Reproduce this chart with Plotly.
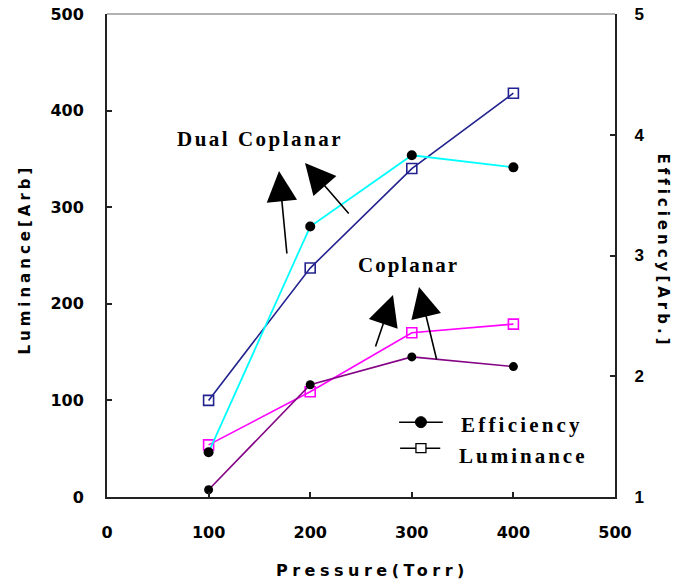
import plotly.graph_objects as go

# Gas pressure (Torr)
pressure = [100, 200, 300, 400]

# Luminance [Arb] (left axis)
lum_dual = [100, 237, 340, 418]
lum_coplanar = [54, 109, 170, 179]

# Efficiency [Arb.] (right axis)
eff_dual = [1.37, 3.24, 3.83, 3.73]
eff_coplanar = [1.06, 1.93, 2.16, 2.08]

x_ticks = [0, 100, 200, 300, 400, 500]
lum_ticks = [0, 100, 200, 300, 400, 500]
eff_ticks = [1, 2, 3, 4, 5]

NAVY = "#23238f"
CYAN = "#00ffff"
MAGENTA = "#ff00ff"
PURPLE = "#850485"

SANS = "DejaVu Sans"
SERIF = "Liberation Serif"


def spaced(text, px):
    return f"<span style='letter-spacing:{px}px'>{text}</span>"


fig = go.Figure()

# Luminance curves: open squares
fig.add_trace(go.Scatter(
    x=pressure, y=lum_dual, mode="lines+markers", showlegend=False,
    line=dict(color=NAVY, width=1.6),
    marker=dict(symbol="square-open", size=10, color=NAVY, line=dict(width=1.6)),
))
fig.add_trace(go.Scatter(
    x=pressure, y=lum_coplanar, mode="lines+markers", showlegend=False,
    line=dict(color=MAGENTA, width=1.6),
    marker=dict(symbol="square-open", size=10, color=MAGENTA, line=dict(width=1.6)),
))

# Efficiency curves: filled black dots on the right axis
fig.add_trace(go.Scatter(
    x=pressure, y=eff_dual, mode="lines+markers", yaxis="y2", showlegend=False,
    line=dict(color=CYAN, width=1.8),
    marker=dict(symbol="circle", size=10, color="black"),
))
fig.add_trace(go.Scatter(
    x=pressure, y=eff_coplanar, mode="lines+markers", yaxis="y2", showlegend=False,
    line=dict(color=PURPLE, width=1.6),
    marker=dict(symbol="circle", size=9, color="black"),
))

tick_font = dict(family=SANS, size=16, color="black", weight="bold")

fig.update_layout(
    width=690, height=582,
    margin=dict(l=107, r=75, t=14, b=85, autoexpand=False),
    paper_bgcolor="white", plot_bgcolor="white",
    showlegend=False,
    xaxis=dict(
        range=[0, 500], tickvals=x_ticks, ticktext=[str(v) for v in x_ticks],
        showgrid=False, zeroline=False,
        showline=True, linecolor="#222222", linewidth=2,
        ticks="inside", ticklen=5, tickwidth=1.5, tickcolor="#222222",
        tickfont=tick_font, ticklabelstandoff=20,
    ),
    yaxis=dict(
        range=[0, 500], tickvals=lum_ticks, ticktext=[str(v) for v in lum_ticks],
        showgrid=False, zeroline=False,
        showline=True, linecolor="#222222", linewidth=2,
        ticks="inside", ticklen=5, tickwidth=1.5, tickcolor="#222222",
        tickfont=tick_font, ticklabelstandoff=18,
    ),
    yaxis2=dict(
        range=[1, 5], tickvals=eff_ticks, ticktext=[str(v) for v in eff_ticks],
        overlaying="y", side="right",
        showgrid=False, zeroline=False,
        showline=True, linecolor="#222222", linewidth=2,
        ticks="inside", ticklen=5, tickwidth=1.5, tickcolor="#222222",
        tickfont=dict(family="Liberation Sans", size=17, color="black", weight="bold"),
        ticklabelstandoff=14,
    ),
)

# top border of the plotting box
fig.add_shape(type="line", xref="paper", yref="paper", x0=0, x1=1, y0=1, y1=1,
              line=dict(color="#999999", width=1.5))

annotations = []

# axis titles
annotations.append(dict(
    text=spaced("Pressure(Torr)", 4.5), xref="paper", yref="paper",
    x=0.523, y=-0.152, xanchor="center", yanchor="middle", showarrow=False,
    font=dict(family=SANS, size=16, color="black", weight="bold"),
))
annotations.append(dict(
    text=spaced("Luminance[Arb]", 4), xref="paper", yref="paper",
    x=-0.161, y=0.492, xanchor="center", yanchor="middle", showarrow=False,
    textangle=-90, font=dict(family=SANS, size=15, color="black", weight="bold"),
))
annotations.append(dict(
    text=spaced("Efficiency[Arb.]", 4), xref="paper", yref="paper",
    x=1.094, y=0.509, xanchor="center", yanchor="middle", showarrow=False,
    textangle=90, font=dict(family=SANS, size=15, color="black", weight="bold"),
))

# group labels
label_font = dict(family=SERIF, size=21, color="black", weight="bold")
annotations.append(dict(text=spaced("Dual Coplanar", 2.5), x=150.6, y=371,
                        xref="x", yref="y", showarrow=False, font=label_font))
annotations.append(dict(text=spaced("Coplanar", 2), x=296.5, y=240,
                        xref="x", yref="y", showarrow=False, font=label_font))

# pointer arrows (tip at x/y, tail at ax/ay)
arrows = [
    (169.3, 337.5, 177.2, 250.5),
    (194.9, 345.8, 239.2, 291.9),
    (281.5, 209.1, 263.8, 154.2),
    (307.1, 217.4, 324.8, 140.8),
]
for tx, ty, sx, sy in arrows:
    annotations.append(dict(
        x=tx, y=ty, ax=sx, ay=sy, xref="x", yref="y", axref="x", ayref="y",
        text="", showarrow=True, arrowhead=2, arrowsize=3.8, arrowwidth=1.6,
        arrowcolor="black",
    ))

# legend
legend_font = dict(family=SERIF, size=21, color="black", weight="bold")
annotations.append(dict(text=spaced("Efficiency", 3.2), xref="paper", yref="paper",
                        x=0.693, y=0.15, xanchor="left", yanchor="middle",
                        showarrow=False, font=legend_font))
annotations.append(dict(text=spaced("Luminance", 3), xref="paper", yref="paper",
                        x=0.689, y=0.084, xanchor="left", yanchor="middle",
                        showarrow=False, font=legend_font))

fig.update_layout(annotations=annotations)

# legend keys
fig.add_shape(type="line", xref="paper", yref="paper", x0=0.575, x1=0.661,
              y0=0.155, y1=0.155, line=dict(color="black", width=1.5))
fig.add_shape(type="circle", xref="paper", yref="paper",
              xsizemode="pixel", ysizemode="pixel", xanchor=0.618, yanchor=0.155,
              x0=-5.5, x1=5.5, y0=-5.5, y1=5.5,
              fillcolor="black", line=dict(color="black", width=1))
fig.add_shape(type="line", xref="paper", yref="paper", x0=0.577, x1=0.656,
              y0=0.101, y1=0.101, line=dict(color="black", width=1.5))
fig.add_shape(type="rect", xref="paper", yref="paper",
              xsizemode="pixel", ysizemode="pixel", xanchor=0.618, yanchor=0.101,
              x0=-5, x1=5, y0=-4.5, y1=4.5,
              fillcolor="white", line=dict(color="black", width=1.3))

fig.write_html("out.html")
